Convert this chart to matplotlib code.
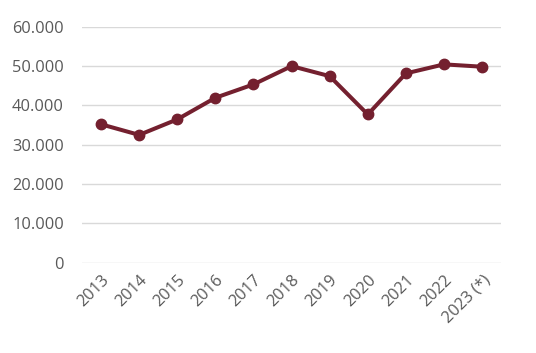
import matplotlib.pyplot as plt
import numpy as np

# Dữ liệu
years = ["2013", "2014", "2015", "2016", "2017", "2018", "2019", "2020", "2021", "2022", "2023 (*)"]
values = [35200, 32500, 36450, 41950, 45350, 50000, 47450, 37700, 48150, 50450, 49850]

line_color = "#74202F"
text_color = "#595959"

fig = plt.figure(figsize=(5.36, 3.53), dpi=100)
ax = fig.add_axes([0.153, 0.256, 0.782, 0.668])

x = np.arange(len(years))
ax.plot(x, values, color=line_color, lw=2.9, marker='o', ms=7.5, zorder=3)

ax.set_xlim(-0.5, len(years) - 0.5)
ax.set_ylim(0, 60000)
yticks = np.arange(0, 60001, 10000)
ax.set_yticks(yticks)
ax.set_yticklabels(["0" if v == 0 else f"{v // 1000}.000" for v in yticks])
ax.set_xticks(x)
ax.set_xticklabels(years, rotation=45, ha='right', rotation_mode='anchor')

ax.grid(axis='y', color="#D9D9D9", lw=1)
ax.set_axisbelow(True)
for s in ax.spines.values():
    s.set_visible(False)
ax.tick_params(axis='y', length=0, pad=13, labelsize=11.8, labelcolor=text_color)
ax.tick_params(axis='x', length=0, pad=7, labelsize=11.8, labelcolor=text_color)
for lab in ax.get_xticklabels() + ax.get_yticklabels():
    lab.set_family("Open Sans")

fig.savefig("out.png", dpi=100)
